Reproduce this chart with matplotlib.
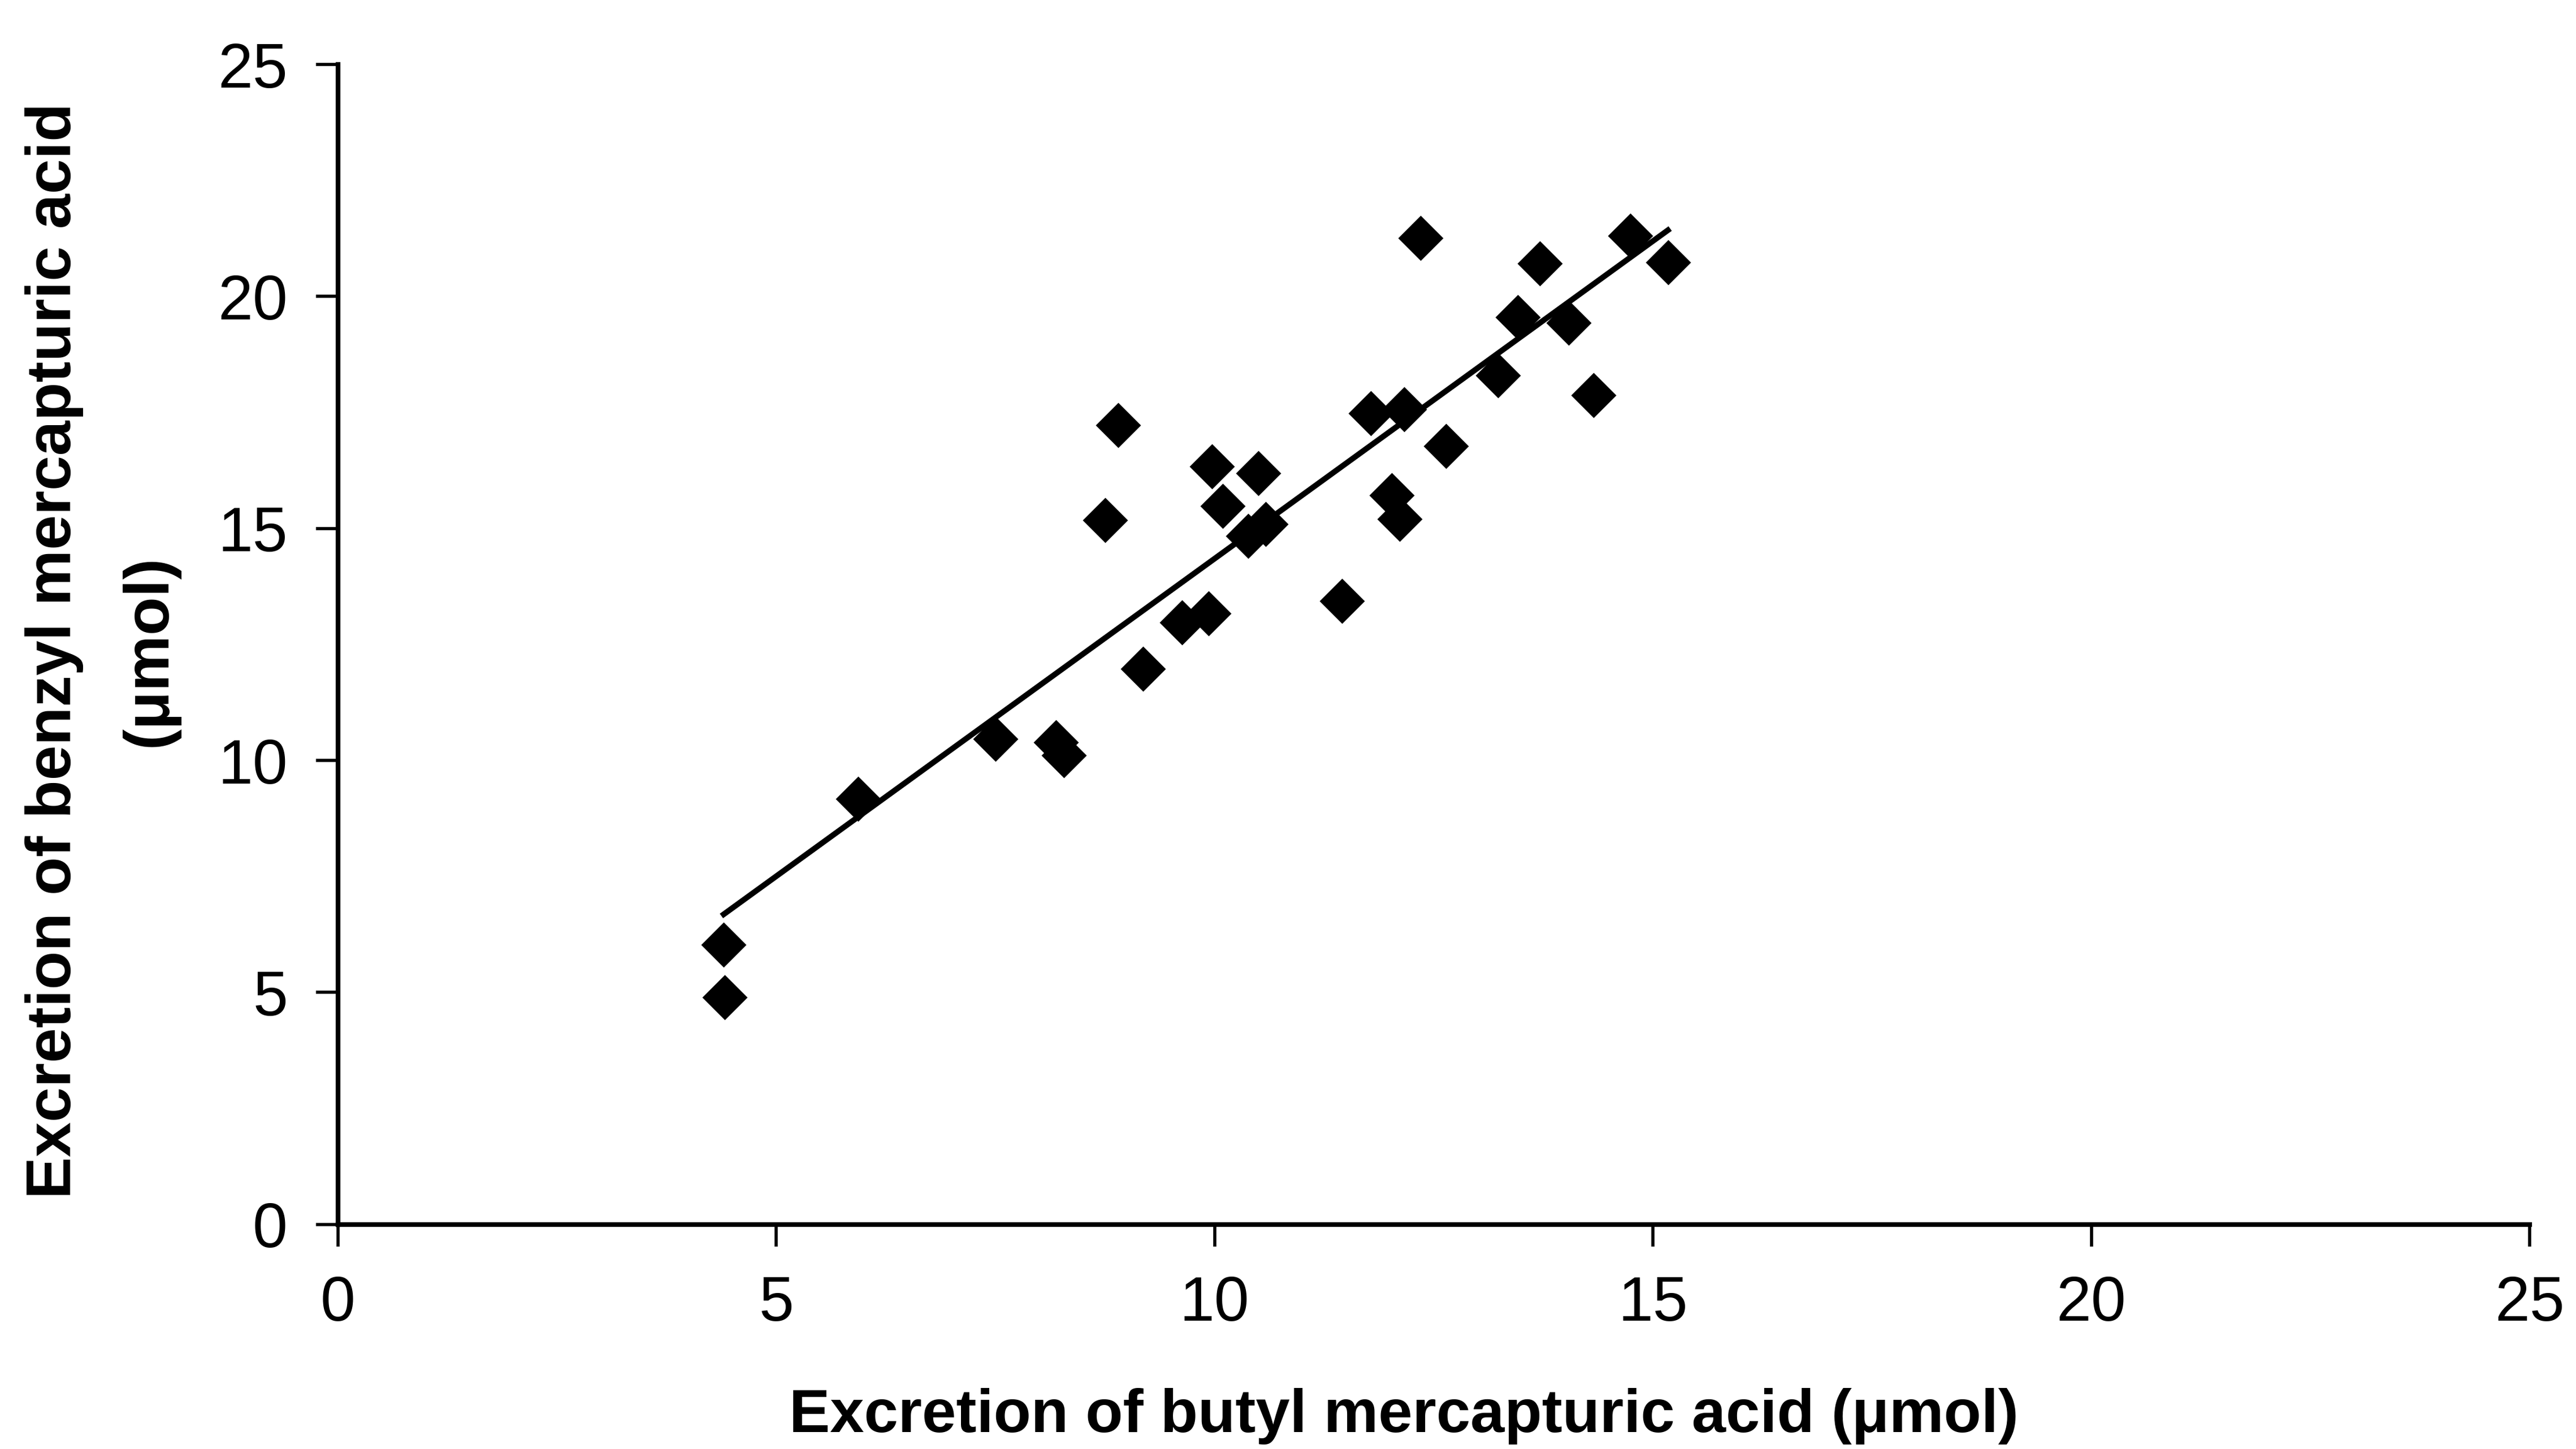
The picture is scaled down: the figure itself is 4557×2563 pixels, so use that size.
import numpy as np
import matplotlib
matplotlib.use("Agg")
import matplotlib.pyplot as plt

plt.rcParams["font.family"] = ["Liberation Sans", "DejaVu Sans"]

# butyl vs benzyl mercapturic acid excretion (umol), one point per subject
butyl = [4.40, 4.41, 5.93, 7.50, 8.19, 8.28, 8.75, 8.90, 9.18, 9.63,
         9.93, 9.97, 10.09, 10.38, 10.58, 10.50, 11.45, 11.78, 12.02, 12.11,
         12.16, 12.35, 12.64, 13.23, 13.46, 13.71, 14.04, 14.32, 14.74, 15.17]
benzyl = [6.03, 4.89, 9.17, 10.46, 10.39, 10.11, 15.18, 17.23, 11.98, 12.98,
          13.17, 16.34, 15.48, 14.84, 15.09, 16.19, 13.44, 17.48, 15.71, 15.20,
          17.57, 21.26, 16.77, 18.30, 19.55, 20.71, 19.43, 17.87, 21.31, 20.73]

# least-squares trend line
fit_slope = 1.369
fit_intercept = 0.66

ticks = [0, 5, 10, 15, 20, 25]

fig = plt.figure(figsize=(22.785, 12.815), dpi=200)
ax = fig.add_axes([0.1312, 0.155, 0.9820 - 0.1312, 0.9555 - 0.155])

xs = np.array([min(butyl), max(butyl)])
ax.plot(xs, fit_slope * xs + fit_intercept, color="black", lw=3.6, zorder=2)
ax.plot(butyl, benzyl, ls="none", marker="D", ms=19.5, mfc="black",
        mec="black", mew=1, zorder=3)

ax.set_xlim(0, 25)
ax.set_ylim(0, 25)
ax.set_xticks(ticks)
ax.set_yticks(ticks)
ax.tick_params(direction="out", length=14, width=2, labelsize=40, pad=18,
               colors="black")
for label in ax.get_xticklabels() + ax.get_yticklabels():
    label.set_fontweight("medium")
for side in ("top", "right"):
    ax.spines[side].set_visible(False)
for side in ("left", "bottom"):
    ax.spines[side].set_linewidth(3)
    ax.spines[side].set_color("black")

fig.text(0.545, 0.0226, "Excretion of butyl mercapturic acid (\u03bcmol)",
         ha="center", va="center", fontsize=39, fontweight="bold")
fig.text(0.021, 0.551, "Excretion of benzyl mercapturic acid",
         ha="center", va="center", rotation=90, fontsize=40, fontweight="bold")
fig.text(0.058, 0.551, "(\u03bcmol)",
         ha="center", va="center", rotation=90, fontsize=40, fontweight="bold")

fig.savefig("out.png", dpi=200, facecolor="white")
